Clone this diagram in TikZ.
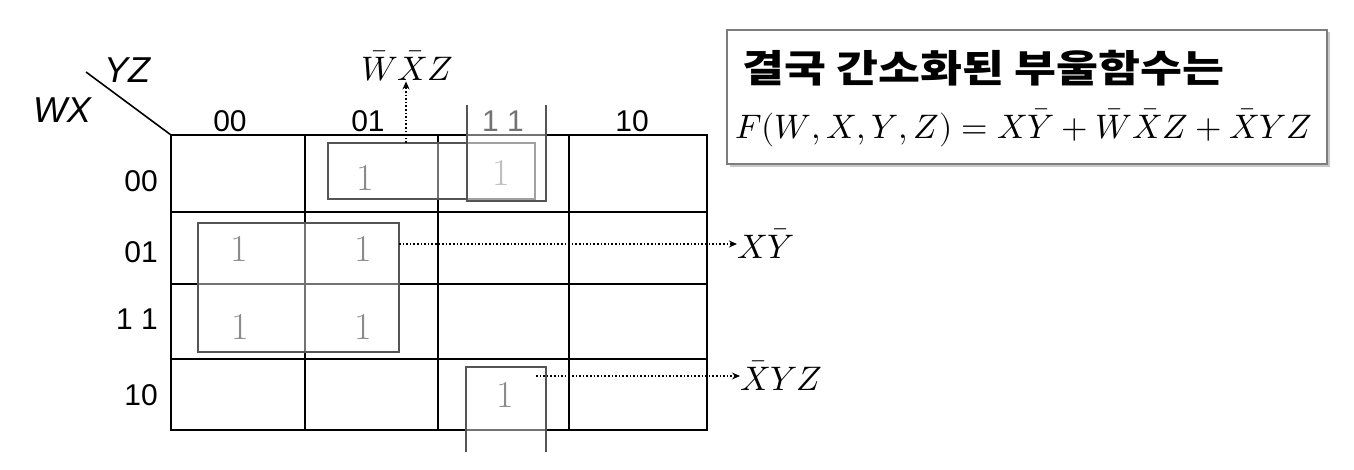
\documentclass[tikz,border=0pt]{standalone}
\usepackage{fontspec}
\usepackage{unicode-math}
\setmathfont{Latin Modern Math}
\newfontfamily\lab{Liberation Sans}
\newfontfamily\kr{Noto Sans CJK KR}
\usetikzlibrary{arrows.meta}
\definecolor{onegray}{RGB}{45,45,45}
\definecolor{rectgray}{RGB}{85,85,85}
\definecolor{boxgray}{RGB}{125,125,125}
\definecolor{shadowgray}{RGB}{200,200,200}
\begin{document}
\begin{tikzpicture}[x=1pt,y=-1pt,
  gridline/.style={line width=2.4pt, line cap=rect},
  grpfill/.style={fill=white, fill opacity=0.45},
  grpline/.style={draw=rectgray, line width=1.2pt},
  one/.style={font=\fontsize{38}{38}\selectfont, text=onegray, inner sep=0pt},
  axlab/.style={font=\lab\fontsize{30}{30}\selectfont, inner sep=0pt},
  varlab/.style={font=\lab\itshape\fontsize{36}{36}\selectfont, inner sep=0pt},
  mlab/.style={font=\fontsize{34}{34}\selectfont, inner sep=0pt},
  dotarrow/.style={dotted, line width=1.6pt, -{Stealth[length=8pt,width=7pt]}},
]
\useasboundingbox (0,0) rectangle (1354,470);

% grid
\draw[gridline] (171,135) rectangle (707,430);
\foreach \gx in {305,438,569} \draw[gridline] (\gx,135) -- (\gx,430);
\foreach \gy in {212,284,359} \draw[gridline] (171,\gy) -- (707,\gy);
\draw[line width=1.6pt] (86,72) -- (171,135);

% axis labels
\node[varlab] (wx) at (62,110) {WX};
\node[varlab] (yz) at (127,70) {YZ};
\node[axlab] (c00) at (230,121) {00};
\node[axlab] (c01) at (368,121) {01};
\node[axlab] (c11) at (503,121) {1 1};
\node[axlab] (c10) at (632,121) {10};
\node[axlab, anchor=east] (r00) at (158,181) {00};
\node[axlab, anchor=east] (r01) at (158,252) {01};
\node[axlab, anchor=east] (r11) at (158,319) {1 1};
\node[axlab, anchor=east] (r10) at (158,395) {10};

% ones
\node[one] (o1) at (365,178) {1};
\node[one] (o2) at (501,173) {1};
\node[one] (o3) at (239,249) {1};
\node[one] (o4) at (363,249) {1};
\node[one] (o5) at (240,327) {1};
\node[one] (o6) at (363,327) {1};
\node[one] (o7) at (505,395) {1};

% groups
\fill[grpfill] (328,143) rectangle (535,199);
\draw[grpline] (328,143) rectangle (535,199);
\fill[grpfill] (467,105) rectangle (546,201);
\draw[grpline] (467,105) -- (467,201) -- (546,201) -- (546,105);
\fill[grpfill] (198,223) rectangle (399,352);
\draw[grpline] (198,223) rectangle (399,352);
\fill[grpfill] (466,367) rectangle (546,452);
\draw[grpline] (466,452) -- (466,367) -- (546,367) -- (546,452);

\coordinate (s1) at (406,143);
\coordinate (s2) at (399,244);
\coordinate (s3) at (536,376);

% term labels
\node[mlab] (t1) at (407,66) {$\bar{W}\bar{X}Z$};
\node[mlab, anchor=west] (t2) at (737,244) {$X\bar{Y}$};
\node[mlab, anchor=west] (t3) at (740,376) {$\bar{X}YZ$};

\draw[dotarrow] (s1) -- (s1 |- t1.south);
\draw[dotarrow] (s2) -- (t2.west);
\draw[dotarrow] (s3) -- (t3.west);

% result box
\draw[shadowgray, line width=1.6pt] (730,166) -- (1329,166) -- (1329,32);
\draw[boxgray, line width=1.6pt] (727,30) rectangle (1327,164);
\node[anchor=west, inner sep=0pt] (title) at (742,68) {\scalebox{1.2}[1]{\kr\bfseries\fontsize{38}{38}\selectfont 결국 간소화된 부울함수는}};
\node[anchor=west, inner sep=0pt, font=\fontsize{34}{34}\selectfont] (formula) at (735,128) {$F(W,X,Y,Z) = X\bar{Y} + \bar{W}\bar{X}Z + \bar{X}YZ$};
\end{tikzpicture}
\end{document}
